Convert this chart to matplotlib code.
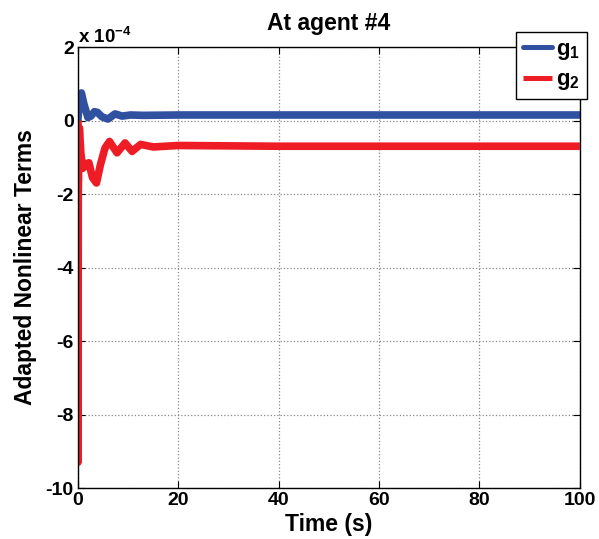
import matplotlib
matplotlib.use('Agg')
import matplotlib.pyplot as plt

plt.rcParams['font.family'] = ['Liberation Sans', 'DejaVu Sans']
plt.rcParams['font.weight'] = 'bold'
plt.rcParams['axes.unicode_minus'] = False
plt.rcParams['mathtext.fontset'] = 'custom'
plt.rcParams['mathtext.bf'] = 'Liberation Sans:bold'
plt.rcParams['mathtext.rm'] = 'Liberation Sans:bold'
plt.rcParams['mathtext.default'] = 'bf'

# ── values (units of 1e-4) ──
t_g1 = [0, 0.3, 0.7, 1.2, 2.0, 2.6, 3.3, 3.9, 4.8, 6.0, 7.4, 8.8, 10.5, 13, 20, 40, 60, 80, 100]
g1 = [0.0, 0.55, 0.75, 0.45, 0.08, 0.12, 0.24, 0.22, 0.1, 0.04, 0.18, 0.12, 0.15, 0.14, 0.15, 0.15, 0.15, 0.15, 0.15]

t_g2 = [0, 0.03, 0.08, 0.3, 0.6, 1.0, 1.5, 2.2, 2.9, 3.7, 4.5, 5.4, 6.3, 7.8, 9.4, 10.8, 12.5, 15, 20, 40, 60, 80, 100]
g2 = [0.0, -9.3, -2.0, -0.2, -0.9, -1.3, -1.2, -1.15, -1.55, -1.7, -1.2, -0.75, -0.57, -0.88, -0.61, -0.84, -0.65, -0.72, -0.68, -0.7, -0.7, -0.7, -0.7]

fig = plt.figure(figsize=(5.99, 5.39), dpi=100)
ax = fig.add_axes([0.130, 0.0946, 0.838, 0.8182])

ax.plot(t_g1, g1, color='#3050a0', lw=5.5, solid_capstyle='round', solid_joinstyle='round', label='g$_1$')
ax.plot(t_g2, g2, color='#ee1c25', lw=5.5, solid_capstyle='butt', solid_joinstyle='round', label='g$_2$')

ax.set_xlim(0, 100)
ax.set_ylim(-10, 2)
ax.set_xticks([0, 20, 40, 60, 80, 100])
ax.set_yticks([-10, -8, -6, -4, -2, 0, 2])
ax.tick_params(direction='in', labelsize=14, length=5, top=True, right=True, pad=3)
for lab in ax.get_xticklabels() + ax.get_yticklabels():
    lab.set_fontweight('bold')
ax.grid(True, linestyle=':', color='#888888', linewidth=0.9)
for sp in ax.spines.values():
    sp.set_linewidth(1.0)

ax.set_title('At agent #4', fontsize=16.5, fontweight='bold', pad=12)
ax.set_xlabel('Time (s)', fontsize=16.5, fontweight='bold', labelpad=3)
ax.set_ylabel('Adapted Nonlinear Terms', fontsize=16.5, fontweight='bold', labelpad=6)
ax.text(0.0, 1.0, r'x 10$^{-4}$', transform=ax.transAxes, fontsize=13.5, fontweight='bold',
        ha='left', va='bottom')

leg = ax.legend(loc='upper right', bbox_to_anchor=(1.014, 1.034), borderaxespad=0, fontsize=16,
                fancybox=False, framealpha=1, edgecolor='black', handlelength=1.3,
                handletextpad=0.2, borderpad=0.3, labelspacing=0.35)
leg.get_frame().set_linewidth(1.0)
for line in leg.get_lines():
    line.set_linewidth(3.6)
for txt in leg.get_texts():
    txt.set_fontweight('bold')

fig.savefig('out.png', dpi=100)
